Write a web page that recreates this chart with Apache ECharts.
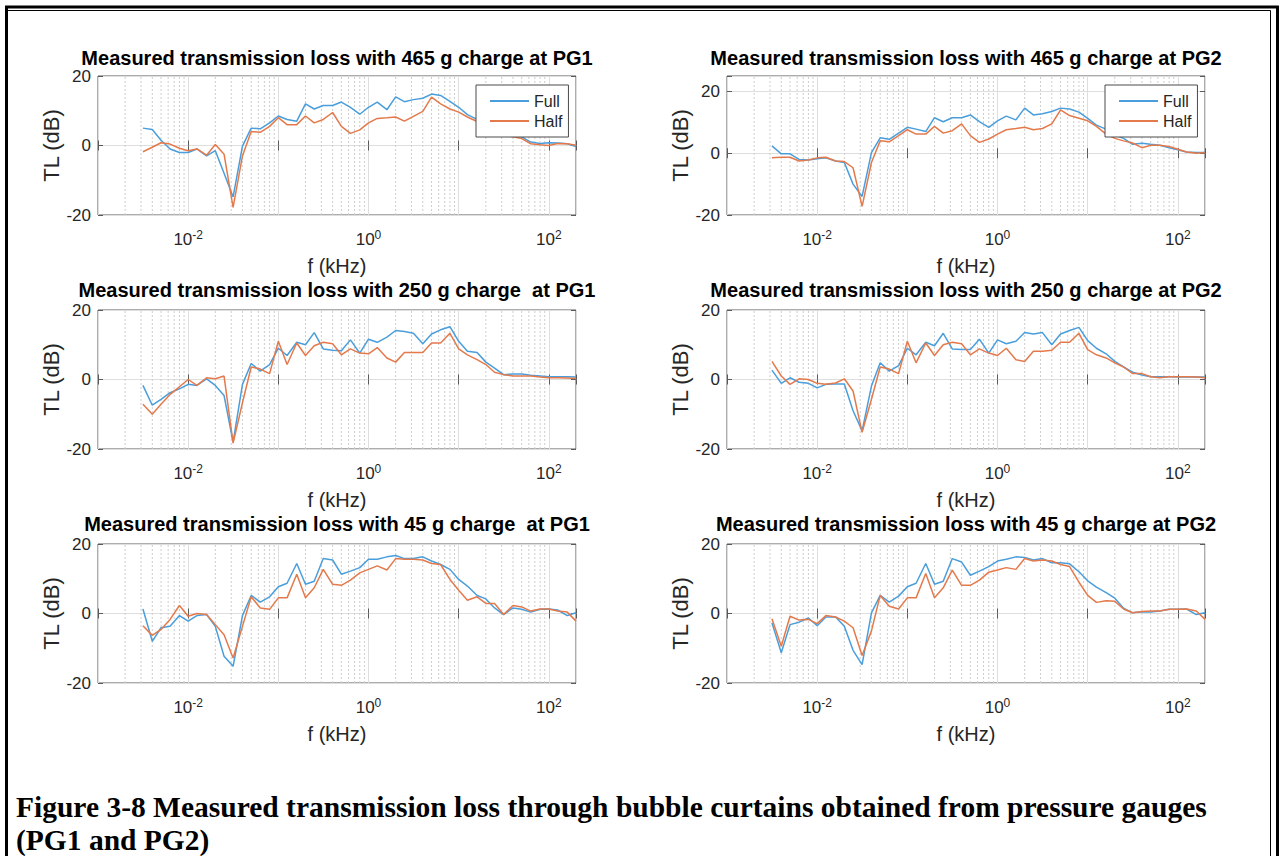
<!DOCTYPE html>
<html>
<head>
<meta charset="utf-8">
<title>Measured transmission loss</title>
<script src="https://cdn.jsdelivr.net/npm/echarts@6/dist/echarts.min.js"></script>
<style>
  html, body { margin: 0; padding: 0; background: #ffffff; }
  #chart { width: 1283px; height: 856px; }
</style>
</head>
<body>
<div id="chart"></div>
<script>
// One-third-octave band centre frequencies, kHz
const freqKHz = [0.00315, 0.004, 0.005, 0.0063, 0.008, 0.01, 0.0125, 0.016, 0.02, 0.025,
  0.0315, 0.04, 0.05, 0.063, 0.08, 0.1, 0.125, 0.16, 0.2, 0.25,
  0.315, 0.4, 0.5, 0.63, 0.8, 1, 1.25, 1.6, 2, 2.5,
  3.15, 4, 5, 6.3, 8, 10, 12.5, 16, 20, 25,
  31.5, 40, 50, 63, 80, 100, 125, 160, 200];

// Transmission loss, dB — 465 g charge
const full465PG1 = [5.0, 4.6, 1.5, -1.0, -2.0, -2.0, -1.0, -3.0, -1.5, -8.0,
  -14.8, -0.2, 5.0, 4.8, 6.5, 8.5, 7.5, 7.0, 12.0, 10.5,
  11.5, 11.5, 12.5, 11.0, 9.0, 11.0, 12.5, 10.3, 14.0, 12.6,
  13.2, 13.6, 14.8, 14.4, 12.7, 11.0, 8.9, 7.5, 5.5, 4.5,
  4.0, 3.0, 2.5, 1.0, 0.6, 0.8, 0.7, 0.5, -0.3];
const half465PG1 = [-1.8, -0.5, 0.8, 0.4, -0.8, -1.5, -1.0, -2.8, 0.3, -2.5,
  -17.8, -3.0, 4.0, 3.8, 5.5, 8.0, 6.0, 6.0, 8.5, 6.5,
  7.5, 9.5, 5.5, 3.5, 4.5, 6.5, 7.8, 8.0, 8.2, 7.0,
  8.4, 9.8, 13.9, 12.0, 10.5, 9.6, 8.2, 6.9, 5.0, 4.0,
  3.0, 2.5, 2.0, 0.5, 0.2, 0.0, 0.6, 0.5, 0.1];
const full465PG2 = [2.4, -0.2, -0.2, -2.0, -2.2, -1.8, -1.5, -2.5, -3.0, -10.0,
  -14.0, 0.2, 5.0, 4.5, 6.5, 8.4, 7.8, 7.0, 11.5, 10.2,
  11.5, 11.5, 12.4, 10.2, 8.4, 10.5, 12.0, 10.8, 14.6, 12.4,
  12.8, 13.5, 14.6, 14.3, 13.3, 11.3, 9.1, 7.8, 5.9, 4.8,
  2.9, 3.2, 2.9, 2.6, 1.8, 1.1, 0.4, 0.2, 0.2];
const half465PG2 = [-1.5, -1.3, -1.3, -2.5, -2.2, -1.5, -1.3, -2.5, -2.7, -4.7,
  -17.2, -3.0, 4.0, 3.7, 5.7, 7.6, 6.2, 6.2, 8.7, 6.5,
  7.3, 9.5, 5.7, 3.5, 4.6, 6.2, 7.6, 8.0, 8.4, 7.6,
  8.0, 9.5, 14.0, 12.2, 11.3, 10.5, 8.7, 6.2, 4.8, 4.0,
  3.3, 1.8, 2.6, 2.6, 2.2, 1.3, 0.4, 0.0, 0.2];

// 250 g charge
const full250PG1 = [-1.7, -7.4, -5.7, -3.8, -2.7, -1.4, -1.7, 0.2, -1.7, -4.6,
  -18.0, -1.4, 4.6, 2.4, 4.3, 9.0, 6.9, 10.7, 10.0, 13.5,
  8.8, 8.4, 8.3, 11.4, 7.6, 11.6, 10.7, 12.2, 14.1, 13.8,
  13.3, 10.3, 13.1, 14.3, 15.2, 11.0, 8.1, 7.8, 5.0, 3.3,
  1.4, 1.6, 1.6, 1.2, 1.0, 0.8, 0.8, 0.8, 0.7];
const half250PG1 = [-7.1, -10.0, -7.1, -4.3, -2.1, 0.0, -1.7, 0.5, 0.2, 1.0,
  -18.3, -6.7, 3.6, 3.0, 1.7, 11.0, 4.3, 10.5, 6.9, 9.7,
  10.7, 10.3, 7.1, 8.8, 7.6, 7.4, 9.2, 6.2, 5.0, 7.8,
  7.8, 7.8, 10.5, 10.5, 13.3, 8.8, 7.1, 5.7, 4.3, 2.1,
  1.4, 1.0, 1.0, 1.0, 0.7, 0.5, 0.5, 0.4, 0.3];
const full250PG2 = [2.7, -1.1, 0.5, -0.8, -1.1, -2.4, -1.4, -1.3, -1.3, -9.0,
  -14.8, -1.9, 4.8, 2.4, 4.0, 9.0, 7.1, 10.7, 9.7, 13.3,
  8.8, 8.6, 8.6, 11.6, 7.6, 11.4, 10.3, 11.0, 13.5, 13.1,
  13.5, 10.0, 13.1, 14.1, 15.0, 11.2, 9.0, 7.4, 5.2, 3.6,
  2.1, 1.3, 0.8, 0.8, 0.8, 0.7, 0.8, 0.7, 0.7];
const half250PG2 = [5.2, 1.0, -1.4, 0.2, 0.0, -1.1, -1.4, -1.0, 0.2, -3.3,
  -15.2, -5.7, 3.6, 3.0, 1.7, 11.0, 4.8, 10.5, 6.9, 10.0,
  10.7, 10.3, 7.1, 8.8, 7.6, 6.9, 9.0, 5.7, 5.2, 8.1,
  8.1, 8.4, 10.7, 10.7, 13.3, 8.6, 7.1, 6.2, 4.8, 3.6,
  1.7, 1.7, 0.8, 0.5, 0.8, 0.8, 0.8, 0.7, 0.5];

// 45 g charge
const full45PG1 = [1.3, -8.0, -4.1, -3.7, -0.6, -2.2, -0.6, -0.3, -3.7, -12.3,
  -15.2, -0.6, 5.2, 3.3, 4.8, 7.7, 8.7, 14.4, 8.4, 9.3,
  15.8, 15.4, 11.3, 12.2, 13.2, 15.6, 15.6, 16.3, 16.7, 15.8,
  15.8, 16.3, 15.1, 14.1, 12.7, 9.8, 7.9, 5.2, 4.2, 1.6,
  -0.3, 1.6, 1.2, 0.4, 1.2, 1.3, 1.0, -0.6, 0.2];
const half45PG1 = [-3.5, -6.3, -4.6, -1.7, 2.3, -0.8, 0.0, -0.3, -3.2, -6.1,
  -12.8, -3.7, 4.8, 1.6, 1.2, 4.5, 4.5, 11.3, 4.5, 7.4,
  12.7, 8.4, 8.1, 9.6, 11.7, 12.7, 13.7, 12.5, 15.8, 15.6,
  15.6, 15.4, 14.4, 14.1, 9.8, 6.7, 3.8, 4.8, 2.9, 2.9,
  -0.3, 2.3, 1.9, 0.7, 1.3, 1.3, 0.7, 0.4, -2.2];
const full45PG2 = [-2.7, -11.3, -3.2, -2.5, -1.3, -3.5, -1.0, -1.0, -3.7, -10.6,
  -14.7, 0.2, 5.2, 3.3, 5.0, 7.7, 8.7, 14.4, 8.4, 9.3,
  15.8, 14.8, 11.0, 12.2, 13.5, 15.1, 15.6, 16.3, 16.1, 15.4,
  15.8, 14.6, 14.6, 14.3, 12.0, 9.4, 7.6, 6.0, 4.4, 1.5,
  0.2, 0.5, 0.4, 0.7, 1.2, 1.2, 1.3, -0.3, 0.2];
const half45PG2 = [-1.5, -9.4, -0.8, -1.9, -1.7, -2.9, -0.6, -1.0, -2.2, -4.1,
  -12.1, -5.0, 5.2, 2.1, 1.3, 4.5, 4.5, 11.5, 4.5, 7.4,
  12.5, 8.1, 8.1, 9.6, 11.9, 12.5, 13.2, 12.7, 15.8, 15.1,
  15.4, 15.1, 14.1, 13.5, 9.0, 5.2, 3.2, 3.7, 3.5, 1.3,
  0.2, 0.6, 0.7, 0.7, 1.2, 1.2, 1.3, 0.7, -1.7];

const panelTitles = [
  'Measured transmission loss with 465 g charge at PG1',
  'Measured transmission loss with 465 g charge at PG2',
  'Measured transmission loss with 250 g charge  at PG1',
  'Measured transmission loss with 250 g charge at PG2',
  'Measured transmission loss with 45 g charge  at PG1',
  'Measured transmission loss with 45 g charge at PG2'
];
const seriesNames = ['Full', 'Half'];
const yTickValues = [-20, 0, 20];
const xLabelExponents = [-2, 0, 2];
const xAxisName = 'f (kHz)';
const yAxisName = 'TL (dB)';
const captionLines = [
  'Figure 3-8 Measured transmission loss through bubble curtains obtained from pressure gauges',
  '(PG1 and PG2)'
];

const panels = [
  { full: full465PG1, half: half465PG1, yMax: 20, legend: true },
  { full: full465PG2, half: half465PG2, yMax: 25, legend: true },
  { full: full250PG1, half: half250PG1, yMax: 20, legend: false },
  { full: full250PG2, half: half250PG2, yMax: 20, legend: false },
  { full: full45PG1, half: half45PG1, yMax: 20, legend: false },
  { full: full45PG2, half: half45PG2, yMax: 20, legend: false }
];

// Axes geometry
const X_MIN = 0.001, X_MAX = 200;
const colLeft = [98, 727];
const rowTop = [76, 310, 544];
const plotW = 478, plotH = 139;
const titleY = [58, 290, 524];

const COLORS = ['#4a9edb', '#e47a4c'];
const FONT = '"Liberation Sans", Arial, Helvetica, sans-serif';
const INK = '#262626';
const BOX = '#5a5a5a';

// Dotted minor grid positions: 2..9 x each decade inside the axis range
const minorGrid = [];
for (let e = -3; e <= 2; e++) {
  for (let m = 2; m <= 9; m++) {
    const v = m * Math.pow(10, e);
    if (v < X_MAX) minorGrid.push(+v.toPrecision(3));
  }
}

function xLabel(v) {
  const lg = Math.log10(v);
  const e = Math.round(lg);
  if (Math.abs(lg - e) < 1e-6 && xLabelExponents.indexOf(e) >= 0) {
    return '{b|10}{s|' + e + '}';
  }
  return '';
}

// Vertical segments from the bottom to the top of the axis, separated by gaps
function minorGridData(yMin, yMax) {
  const out = [];
  minorGrid.forEach(v => { out.push([v, yMin], [v, yMax], [v, null]); });
  return out;
}

const grids = [], xMain = [], yMain = [], xTwin = [], yTwin = [];
const series = [], legends = [], graphics = [];

panels.forEach((p, i) => {
  const col = i % 2, row = Math.floor(i / 2);
  const left = colLeft[col], top = rowTop[row];
  grids.push({
    left: left, top: top, width: plotW, height: plotH,
    show: true, borderColor: BOX, borderWidth: 1, backgroundColor: '#ffffff',
    containLabel: false, outerBoundsMode: 'none'
  });
  xMain.push({
    type: 'log', logBase: 10, gridIndex: i, min: X_MIN, max: X_MAX, splitNumber: 5,
    position: 'bottom',
    name: xAxisName, nameLocation: 'middle', nameGap: 41,
    nameTextStyle: { fontFamily: FONT, fontSize: 20, color: INK },
    axisLine: { show: false },
    axisTick: { show: true, inside: true, length: 5, lineStyle: { color: BOX } },
    axisLabel: {
      margin: 14, color: INK, fontFamily: FONT, formatter: xLabel,
      showMinLabel: true, showMaxLabel: true, hideOverlap: false,
      rich: {
        b: { fontSize: 17, fontFamily: FONT, color: INK },
        s: { fontSize: 12, fontFamily: FONT, color: INK, padding: [0, 0, 9, 0] }
      }
    },
    splitLine: { show: true, lineStyle: { color: '#dedede', width: 1 } }
  });
  yMain.push({
    type: 'value', gridIndex: i, min: -20, max: p.yMax, interval: 20,
    position: 'left',
    name: yAxisName, nameLocation: 'middle', nameGap: 34,
    nameTextStyle: { fontFamily: FONT, fontSize: 22, color: INK },
    axisLine: { show: false },
    axisTick: { show: true, inside: true, length: 5, lineStyle: { color: BOX } },
    axisLabel: {
      margin: 7, color: INK, fontFamily: FONT, fontSize: 17, lineHeight: 14,
      formatter: v => (yTickValues.indexOf(v) >= 0 ? String(v) : '')
    },
    splitLine: { show: true, lineStyle: { color: '#dedede', width: 1 } }
  });
  // tick-only twins on the top and right edges of each box
  xTwin.push({
    type: 'log', logBase: 10, gridIndex: i, min: X_MIN, max: X_MAX, splitNumber: 5,
    position: 'top', axisLine: { show: false }, axisLabel: { show: false },
    splitLine: { show: false },
    axisTick: { show: true, inside: true, length: 5, lineStyle: { color: BOX } }
  });
  yTwin.push({
    type: 'value', gridIndex: i, min: -20, max: p.yMax, interval: 20,
    position: 'right', axisLine: { show: false }, axisLabel: { show: false },
    splitLine: { show: false },
    axisTick: { show: true, inside: true, length: 5, lineStyle: { color: BOX } }
  });

  // dotted minor grid drawn first so the curves sit above it
  series.push({
    type: 'line', name: 'minor-grid', xAxisIndex: i, yAxisIndex: i,
    data: minorGridData(-20, p.yMax), connectNulls: false,
    showSymbol: false, symbol: 'none', silent: true, animation: false,
    lineStyle: { type: [2, 2], color: '#cdcdcd', width: 1 },
    emphasis: { disabled: true }, tooltip: { show: false }
  });
  [p.full, p.half].forEach((vals, k) => {
    series.push({
      type: 'line', name: seriesNames[k], xAxisIndex: i, yAxisIndex: i,
      data: freqKHz.map((f, j) => [f, vals[j]]),
      showSymbol: false, symbol: 'none', smooth: false, animation: false,
      lineStyle: { color: COLORS[k], width: 1.5 }, itemStyle: { color: COLORS[k] },
      emphasis: { disabled: true }
    });
  });

  if (p.legend) {
    legends.push({
      data: seriesNames, orient: 'vertical', icon: 'rect',
      left: left + plotW - 8 - 92, top: top + 9,
      padding: [8, 6, 8, 14], itemWidth: 39, itemHeight: 2, itemGap: 4,
      backgroundColor: '#ffffff', borderColor: '#4a4a4a', borderWidth: 1, borderRadius: 0,
      selectedMode: false,
      textStyle: { fontFamily: FONT, fontSize: 16, color: INK, lineHeight: 16 }
    });
  }

  graphics.push({
    type: 'text', x: left + plotW / 2, y: titleY[row], silent: true,
    style: {
      text: panelTitles[i], fill: '#000000', textAlign: 'center', textVerticalAlign: 'middle',
      font: 'bold 20px ' + FONT, lineHeight: 18
    }
  });
});

// Document caption and page frame
const CAPTION_FONT = 'bold 29.5px "Liberation Serif", "Times New Roman", serif';
[807, 839.5].forEach((y, k) => {
  graphics.push({
    type: 'text', x: 16, y: y, silent: true,
    style: { text: captionLines[k], fill: '#000', textAlign: 'left', textVerticalAlign: 'middle',
      font: CAPTION_FONT }
  });
});
graphics.push({
  type: 'polyline', silent: true,
  shape: { points: [[6.5, 856], [6.5, 7], [1277.5, 7], [1277.5, 856]] },
  style: { stroke: '#000', lineWidth: 3, fill: null }
});
graphics.push({
  type: 'polyline', silent: true,
  shape: { points: [[8, 10.5], [1270.5, 10.5], [1270.5, 856]] },
  style: { stroke: '#000', lineWidth: 1, fill: null }
});

const chart = echarts.init(document.getElementById('chart'), null, { renderer: 'svg' });
chart.setOption({
  backgroundColor: '#ffffff',
  animation: false,
  grid: grids,
  xAxis: xMain.concat(xTwin),
  yAxis: yMain.concat(yTwin),
  legend: legends,
  series: series,
  graphic: graphics
});
</script>
</body>
</html>
